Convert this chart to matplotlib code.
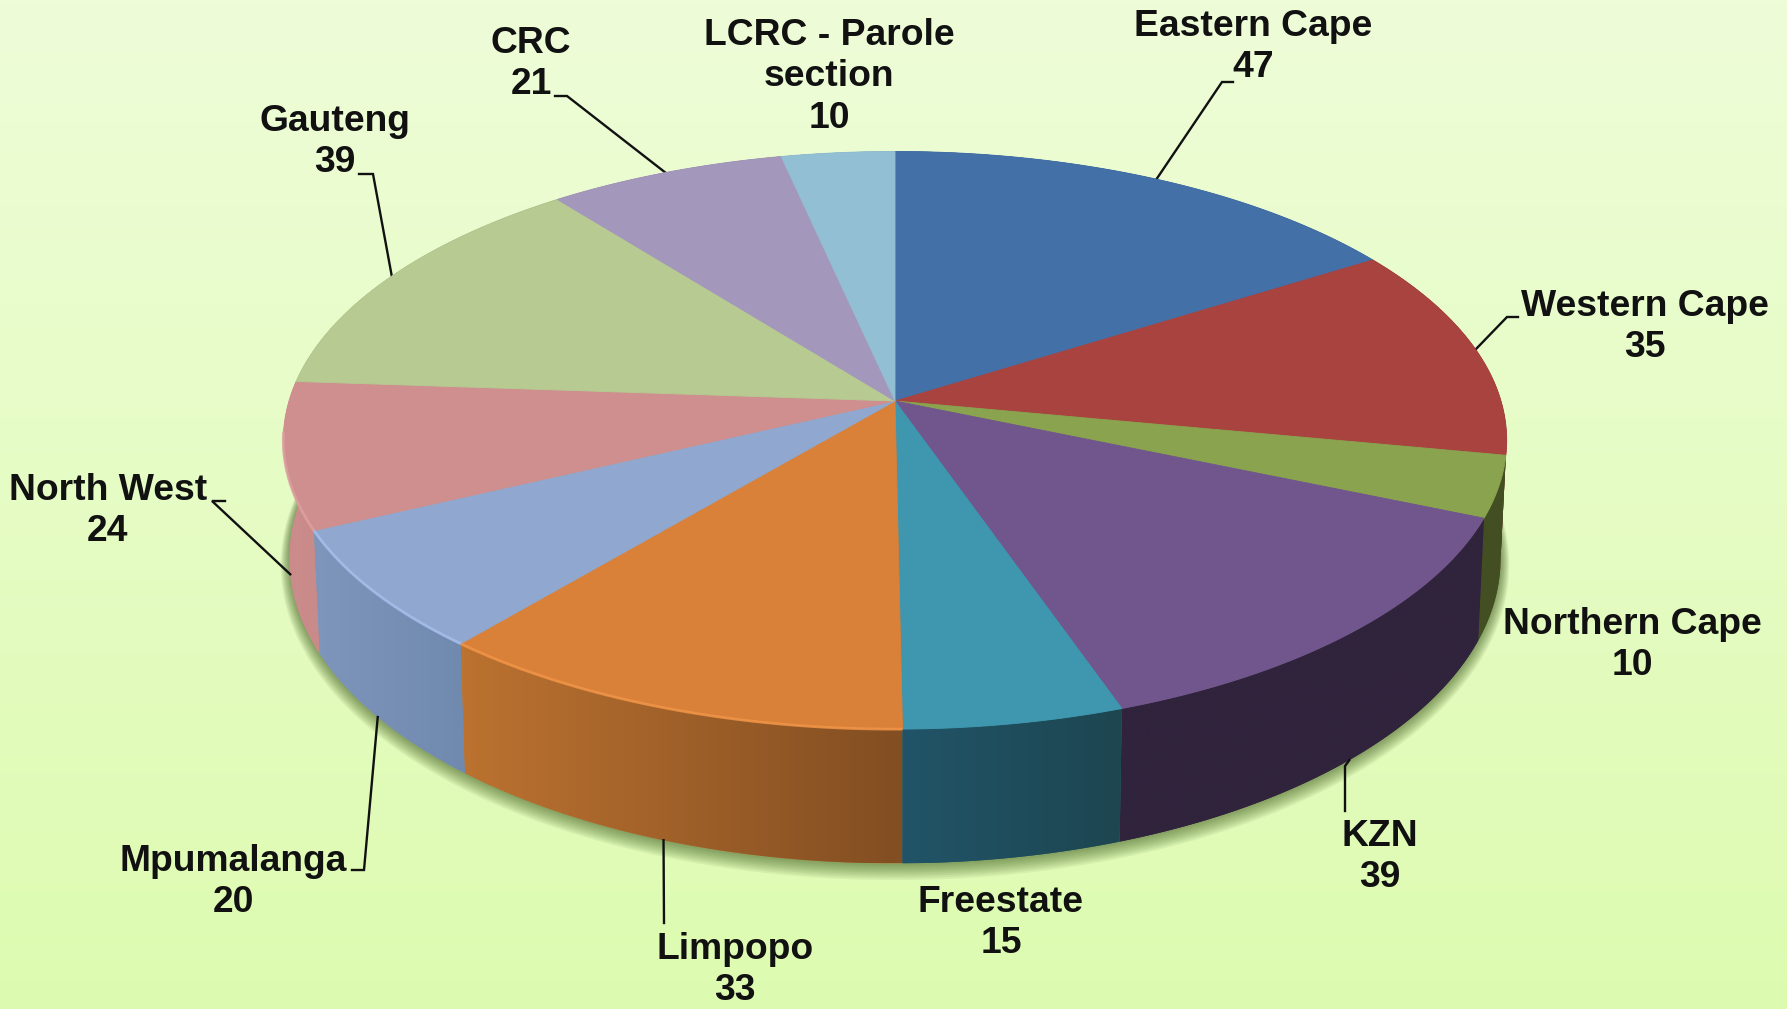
import numpy as np
import matplotlib
matplotlib.use("Agg")
import matplotlib.pyplot as plt
from matplotlib.colors import LinearSegmentedColormap, to_rgb
from matplotlib.patches import Polygon

names = ["Eastern Cape", "Western Cape", "Northern Cape", "KZN", "Freestate", "Limpopo",
         "Mpumalanga", "North West", "Gauteng", "CRC", "LCRC - Parole\nsection"]
counts = [47, 35, 10, 39, 15, 33, 20, 24, 39, 21, 10]

top_colors = ["#4470A8", "#A84340", "#8AA34E", "#71558D", "#3E96AF", "#D98039",
              "#90A8D0", "#CE8F8E", "#B6CA92", "#A497BC", "#92BFD3"]
wall_left = ["#30507A", "#7A3030", "#434F22", "#30233C", "#215468", "#BC7230",
             "#7F96BC", "#CC8C8C", "#84936A", "#776D88", "#6A8A99"]
wall_right = ["#30507A", "#7A3030", "#434F22", "#30233C", "#1D4650", "#824E22",
              "#7089AE", "#C98A8A", "#84936A", "#776D88", "#6A8A99"]
rim_colors = [None, None, None, None, None, "#F09548", "#A6BEEA", "#DDA0A0",
              None, None, None]

# label centres, pixels
label_xy = [(1253, 47), (1645, 327), (1632, 645), (1380, 857), (1001, 923), (735, 970),
            (233, 882), (108, 511), (335, 142), (531, 64), (829, 77)]
# leader elbow points (None = no leader), pixels
leaders = [[(1233, 82), (1222, 82)], [(1518, 317), (1507, 317)], None, [(1345, 811), (1345, 766)],
           None, [(664, 923)], [(352, 870), (364, 870)], [(225, 501), (212, 501)],
           [(359, 174), (373, 174)], [(555, 96), (567, 96)], None]

CX, CY = 895, 401
R, B, K = 606, 283.5, 0.136
DEPTH = 116
SHRINK = 0.99


def project(theta, drop=0.0, extra=0.0):
    # circle point seen with a little perspective, theta clockwise from 12 o'clock
    u, v = np.sin(theta), -np.cos(theta)
    w = 1 - K * v
    shrink = 1 - (1 - SHRINK) * drop / DEPTH
    x = CX + (R + extra) * u / w * shrink
    y = CY + ((B + extra) * v + drop) / w
    return x, y


edges = np.cumsum([0] + counts) / sum(counts) * 2 * np.pi
mids = (edges[:-1] + edges[1:]) / 2

plt.rcParams["font.family"] = ["Liberation Sans", "DejaVu Sans"]
fig = plt.figure(figsize=(17.87, 10.09), dpi=100)
ax = fig.add_axes([0, 0, 1, 1])

bg = LinearSegmentedColormap.from_list("bg", ["#EEFDD8", "#DDFBB0"])
ax.imshow(np.linspace(0, 1, 256)[:, None], cmap=bg, extent=(0, 1787, 1009, 0), aspect="auto", zorder=0)

# soft shadow under the pie
t = np.linspace(0, 2 * np.pi, 400)
for i in range(9, 0, -1):
    sx, sy = project(t, DEPTH + i * 0.6, i * 1.0)
    ax.fill(sx, sy, color="#2F4A10", alpha=0.07, lw=0, zorder=1)

# walls, back to front
order = sorted(range(len(counts)), key=lambda i: -np.cos(mids[i]))
for n, i in enumerate(order):
    arc = np.linspace(edges[i], edges[i + 1], 80)
    x0, y0 = project(arc)
    x1, y1 = project(arc, DEPTH)
    pts = np.column_stack([np.r_[x0, x1[::-1]], np.r_[y0, y1[::-1]]])
    poly = Polygon(pts, closed=True, facecolor=wall_left[i], edgecolor="none", zorder=2 + n * 0.01)
    ax.add_patch(poly)
    cm = LinearSegmentedColormap.from_list("w%d" % i, [to_rgb(wall_left[i]), to_rgb(wall_right[i])])
    im = ax.imshow(np.linspace(0, 1, 128)[None, :], cmap=cm, aspect="auto", zorder=2 + n * 0.01 + 0.001,
                   extent=(pts[:, 0].min(), pts[:, 0].max(), pts[:, 1].max(), pts[:, 1].min()))
    im.set_clip_path(poly)

# top face
for i in range(len(counts)):
    arc = np.linspace(edges[i], edges[i + 1], 120)
    x0, y0 = project(arc)
    ax.fill(np.r_[CX, x0], np.r_[CY, y0], color=top_colors[i], ec=top_colors[i], lw=0.6, zorder=4)

# light rim on the front edge
for i, c in enumerate(rim_colors):
    if c is None:
        continue
    arc = np.linspace(edges[i], edges[i + 1], 80)
    arc = arc[-np.cos(arc) > 0.1]
    x0, y0 = project(arc)
    ax.plot(x0, y0, color=c, lw=2, alpha=0.85, solid_capstyle="butt", zorder=5)

# labels and leaders
for i, name in enumerate(names):
    if leaders[i] is not None:
        front = np.cos(mids[i]) < -0.02
        ex, ey = project(mids[i], DEPTH if front else 0)
        lx = [p[0] for p in leaders[i]] + [float(ex)]
        ly = [p[1] for p in leaders[i]] + [float(ey)]
        ax.plot(lx, ly, color="#111111", lw=1.7, solid_joinstyle="miter", zorder=3)
    ax.text(label_xy[i][0], label_xy[i][1], "%s\n%d" % (name, counts[i]), ha="center", va="center",
            multialignment="center", fontsize=26.8, fontweight="bold", color="#111111", linespacing=1.25, zorder=6)

ax.set_xlim(0, 1787)
ax.set_ylim(1009, 0)
ax.axis("off")
fig.savefig("out.png", dpi=100)
